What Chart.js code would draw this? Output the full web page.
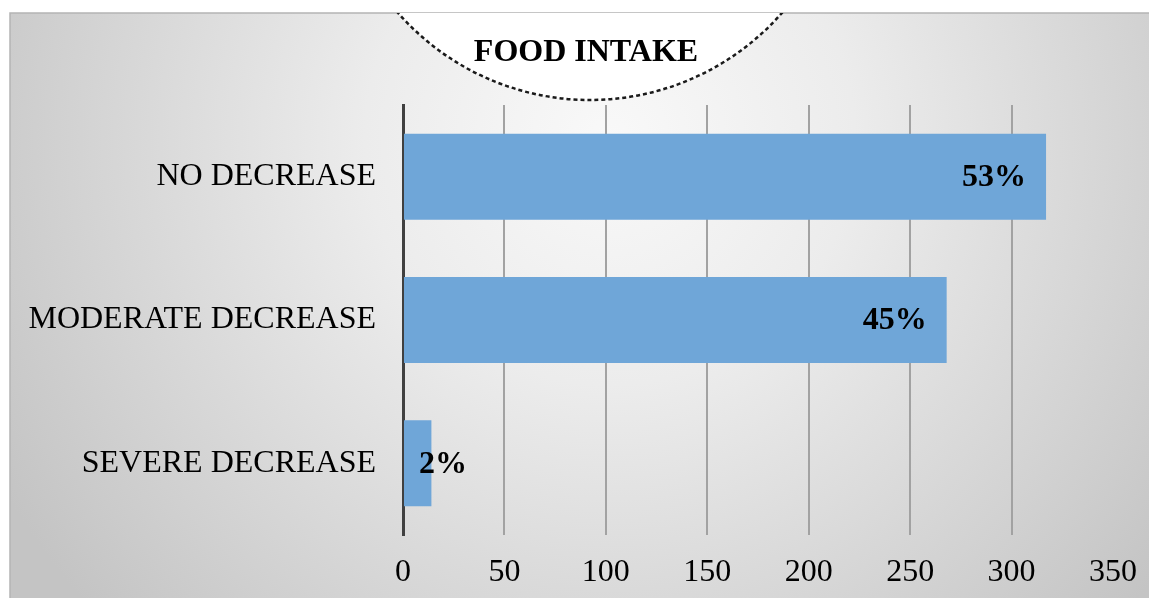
<!DOCTYPE html>
<html>
<head>
<meta charset="utf-8">
<title>FOOD INTAKE</title>
<script src="https://cdn.jsdelivr.net/npm/chart.js@4.4.1/dist/chart.umd.min.js"></script>
<style>
  html, body { margin: 0; padding: 0; background: #ffffff; }
  #wrap { width: 1151px; height: 598px; position: relative; }
</style>
</head>
<body>
<div id="wrap"><canvas id="chart" width="1151" height="598"></canvas></div>
<script>
// Responses per category of food intake change
const categories = ['NO DECREASE', 'MODERATE DECREASE', 'SEVERE DECREASE'];
const responses = [317, 268, 14];
const xTicks = [0, 50, 100, 150, 200, 250, 300, 350];
const chartTitle = 'FOOD INTAKE';

const total = responses.reduce((a, b) => a + b, 0);
const percentLabels = responses.map(v => Math.round(v / total * 100) + '%');

const SERIF = '"Liberation Serif", "DejaVu Serif", serif';

// Grey panel with a soft radial sheen, plus the white title cap
const panelPlugin = {
  id: 'panel',
  beforeDraw(chart) {
    const ctx = chart.ctx;
    const x0 = 10, y0 = 13, x1 = 1149, y1 = 598;
    ctx.save();
    const g = ctx.createRadialGradient(610, 140, 0, 610, 140, 700);
    g.addColorStop(0, '#f9f9f9');
    g.addColorStop(0.35, '#ececec');
    g.addColorStop(1, '#c4c4c4');
    ctx.fillStyle = g;
    ctx.fillRect(x0, y0, x1 - x0, y1 - y0);
    ctx.strokeStyle = '#b4b4b4';
    ctx.lineWidth = 1.5;
    ctx.beginPath();
    ctx.moveTo(x0, y1);
    ctx.lineTo(x0, y0);
    ctx.lineTo(x1, y0);
    ctx.stroke();

    // white cap behind the title
    ctx.beginPath();
    ctx.rect(x0, y0, x1 - x0, y1 - y0);
    ctx.clip();
    ctx.beginPath();
    ctx.arc(590, -155, 255, 0, Math.PI * 2);
    ctx.fillStyle = '#ffffff';
    ctx.fill();
    ctx.setLineDash([4, 3]);
    ctx.lineWidth = 2.5;
    ctx.strokeStyle = '#1a1a1a';
    ctx.stroke();
    ctx.restore();
  },
  afterDraw(chart) {
    const ctx = chart.ctx;
    ctx.save();
    ctx.fillStyle = '#000000';
    ctx.font = 'bold 32px ' + SERIF;
    ctx.textAlign = 'center';
    ctx.textBaseline = 'middle';
    ctx.fillText(chartTitle, 586, 53);
    ctx.restore();
  }
};

// Percentage labels near the end of each bar
const valueLabels = {
  id: 'valueLabels',
  afterDatasetsDraw(chart) {
    const ctx = chart.ctx;
    const meta = chart.getDatasetMeta(0);
    const left = chart.chartArea.left;
    ctx.save();
    ctx.font = 'bold 32px ' + SERIF;
    ctx.fillStyle = '#000000';
    ctx.textAlign = 'right';
    ctx.textBaseline = 'middle';
    meta.data.forEach((bar, i) => {
      const txt = percentLabels[i];
      const w = ctx.measureText(txt).width;
      const x = Math.max(bar.x - 20, left + 16 + w);
      ctx.fillText(txt, x, bar.y + 1);
    });
    ctx.restore();
  }
};

new Chart(document.getElementById('chart'), {
  type: 'bar',
  data: {
    labels: categories,
    datasets: [{
      data: responses,
      backgroundColor: '#6fa6d8',
      borderWidth: 0,
      categoryPercentage: 1.0,
      barPercentage: 0.6
    }]
  },
  options: {
    indexAxis: 'y',
    responsive: false,
    animation: false,
    layout: { padding: { left: 0, right: 38, top: 105, bottom: 0 } },
    plugins: {
      legend: { display: false },
      title: { display: false },
      tooltip: { enabled: false }
    },
    scales: {
      x: {
        min: 0,
        max: 350,
        afterBuildTicks(scale) {
          scale.ticks = xTicks.map(v => ({ value: v }));
        },
        afterFit(scale) {
          scale.height = 63;
          scale.paddingLeft = 0;
          scale.paddingRight = 0;
        },
        border: { display: false },
        grid: {
          drawTicks: false,
          lineWidth: 2,
          color: ctx => (ctx.tick && (ctx.tick.value === 0 || ctx.tick.value === 350)) ? 'rgba(0,0,0,0)' : '#a2a2a2'
        },
        ticks: {
          color: '#000000',
          padding: 18,
          font: { family: SERIF, size: 32 }
        }
      },
      y: {
        afterFit(scale) { scale.width = 403; },
        border: { display: true, color: '#404040', width: 3 },
        grid: { display: false, drawTicks: false },
        ticks: {
          color: '#000000',
          padding: 27,
          font: { family: SERIF, size: 32 }
        }
      }
    }
  },
  plugins: [panelPlugin, valueLabels]
});
</script>
</body>
</html>
